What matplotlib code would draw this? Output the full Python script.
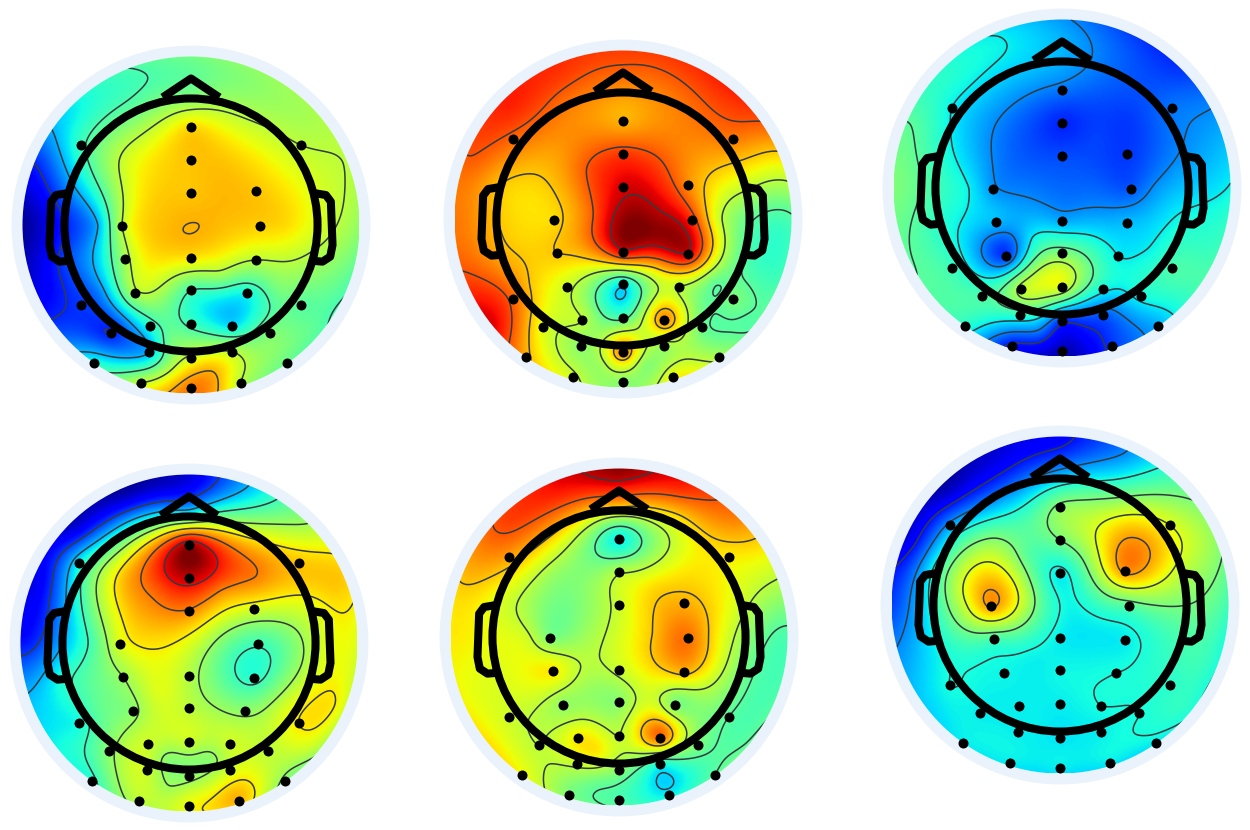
import matplotlib
matplotlib.use('Agg')
import matplotlib.pyplot as plt
from matplotlib.patches import Circle
import numpy as np

# control points, offsets from the field centre (field radius = 506), y downwards
ELEC_X = [0, 0, 0, 196, 206, -207, -197, 0, 196, -169, 0, 169, -124, 0, 123,
          -331, 329, -331, 329, -239, 238, -126, 123, 0, -291, 289, -151, 149, 0]
ELEC_Y = [-293, -195, -95, -103, 3, 3, 103, 98, 105, 204, 196, 204, 302, 296, 302,
          -240, -240, 240, 240, 325, 325, 380, 380, 400, 413, 413, 475, 475, 490]
EXTRA_X = [0, 190, 350, 455, 495, 455, 380, -380, -455, -495, -455, -350, -190,
           0, -170, 170, -370, 370, -370, 370, -200, 200, -100, 100, 100, -100,
           90, -90, -65, 65, -65, 65, -280, 280, -280, 280]
EXTRA_Y = [-495, -455, -350, -190, 0, 190, 320, 320, 190, 0, -190, -350, -455,
           -390, -340, -340, -100, -100, 100, 100, -190, -200, -10, -10, -150, -150,
           150, 150, 350, 350, 440, 440, 0, 0, 200, 200]

# values on the jet scale 0-100: the 29 electrodes, then the extra points
P1_ELEC = [68, 70, 70, 70, 69, 58, 55, 67, 58, 56, 44, 38, 40, 42, 34,
           42, 58, 18, 46, 16, 50, 30, 58, 60, 38, 48, 58, 58, 78]
P1_EXTRA = [48, 52, 55, 58, 54, 46, 46, 20, 10, 3, 18, 36, 43,
            50, 48, 56, 25, 62, 20, 56, 60, 66, 70, 71, 71, 68,
            55, 62, 48, 50, 58, 72, 30, 68, 25, 50]
P2_ELEC = [72, 85, 92, 76, 86, 68, 70, 92, 93, 60, 36, 58, 58, 44, 76,
           80, 78, 80, 50, 62, 48, 52, 55, 76, 72, 55, 60, 64, 52]
P2_EXTRA = [84, 85, 86, 68, 44, 43, 45, 90, 84, 78, 82, 88, 86,
            76, 78, 78, 70, 60, 72, 45, 74, 76, 80, 96, 85, 83,
            68, 62, 55, 60, 55, 52, 67, 62, 70, 46]
P3_ELEC = [24, 16, 20, 18, 21, 27, 31, 29, 31, 18, 50, 36, 58, 62, 38,
           36, 24, 42, 44, 44, 38, 42, 22, 18, 40, 30, 14, 18, 5]
P3_EXTRA = [28, 20, 18, 28, 36, 42, 42, 45, 46, 50, 46, 40, 36,
            30, 33, 22, 40, 27, 40, 38, 26, 18, 24, 22, 19, 20,
            37, 36, 50, 33, 22, 13, 36, 27, 33, 38]
P4_ELEC = [96, 94, 77, 62, 43, 62, 54, 57, 40, 52, 58, 52, 60, 60, 60,
           36, 70, 38, 66, 52, 58, 60, 60, 52, 40, 52, 58, 72, 64]
P4_EXTRA = [8, 33, 55, 70, 63, 64, 58, 38, 33, 14, 10, 6, 3,
            35, 42, 60, 30, 62, 40, 60, 70, 78, 68, 52, 76, 80,
            50, 62, 52, 52, 55, 62, 46, 47, 46, 60]
P5_ELEC = [36, 57, 60, 72, 79, 50, 66, 60, 72, 53, 52, 50, 66, 58, 80,
           74, 66, 60, 46, 58, 50, 60, 40, 52, 64, 46, 50, 36, 44]
P5_EXTRA = [98, 88, 77, 60, 44, 44, 46, 66, 64, 66, 72, 84, 90,
            70, 72, 64, 62, 60, 62, 50, 54, 66, 54, 70, 67, 52,
            62, 54, 66, 58, 48, 40, 60, 68, 60, 52]
P6_ELEC = [52, 50, 36, 76, 46, 75, 44, 36, 36, 37, 37, 38, 36, 36, 38,
           28, 62, 38, 40, 36, 38, 36, 36, 35, 36, 36, 36, 36, 36]
P6_EXTRA = [12, 26, 47, 54, 44, 40, 40, 34, 30, 20, 10, 4, 8,
            30, 24, 46, 42, 58, 38, 44, 52, 74, 56, 42, 58, 46,
            36, 37, 36, 36, 36, 36, 62, 50, 38, 40]

PANEL_VALUES = [P1_ELEC + P1_EXTRA, P2_ELEC + P2_EXTRA, P3_ELEC + P3_EXTRA,
                P4_ELEC + P4_EXTRA, P5_ELEC + P5_EXTRA, P6_ELEC + P6_EXTRA]
PANEL_LEVELS = [[16, 30, 44, 58, 72],
                [34, 46, 58, 70, 82, 94],
                [16, 26, 36, 46, 56],
                [18, 30, 42, 54, 66, 78, 90],
                [34, 46, 58, 70, 82, 94],
                [14, 26, 38, 50, 62, 74]]
# field centres in pixels of the 1250x830 image
CENTER_X = [191, 623, 1062, 189, 619, 1060]
CENTER_Y = [225, 219, 188, 643, 637, 605]

FIELD_R = 168.5
LIM = 1.1
W, H = 1250, 830


def biharmonic(x, y, v, gx, gy):
    # same kind of surface spline EEG topographies use between the channels
    def green(r2):
        out = np.zeros_like(r2)
        ok = r2 > 0
        out[ok] = r2[ok] * (0.5 * np.log(r2[ok]) - 1)
        return out
    d2 = (x[:, None] - x[None, :])**2 + (y[:, None] - y[None, :])**2
    weights = np.linalg.solve(green(d2), v)
    g2 = (gx.ravel()[:, None] - x[None, :])**2 + (gy.ravel()[:, None] - y[None, :])**2
    return (green(g2) @ weights).reshape(gx.shape)


def head_lines(ax):
    px = 1 / 506
    lw = 5.8
    ax.add_patch(Circle((0, 0), 380 * px, fill=False, ec='black', lw=lw, zorder=4))
    ax.plot(np.array([-75, 0, 75]) * px, np.array([390, 440, 390]) * px, color='black',
            lw=lw, solid_joinstyle='round', zorder=4)
    ear_x = np.array([375, 405, 420, 425, 418, 395, 370]) * px
    ear_y = np.array([95, 90, 70, -60, -95, -110, -108]) * px
    ax.plot(-ear_x, ear_y, color='black', lw=lw, solid_joinstyle='round', zorder=4)
    ax.plot(ear_x, ear_y, color='black', lw=lw, solid_joinstyle='round', zorder=4)


def main():
    fig = plt.figure(figsize=(W / 100, H / 100), dpi=100, facecolor='white')
    xs = np.array(ELEC_X + EXTRA_X) / 506
    ys = -np.array(ELEC_Y + EXTRA_Y) / 506
    grid = np.linspace(-1, 1, 260)
    gx, gy = np.meshgrid(grid, grid)
    size = 2 * LIM * FIELD_R
    for i in range(6):
        left = (CENTER_X[i] - size / 2) / W
        bottom = (H - CENTER_Y[i] - size / 2) / H
        ax = fig.add_axes([left, bottom, size / W, size / H])
        ax.set_xlim(-LIM, LIM)
        ax.set_ylim(-LIM, LIM)
        ax.axis('off')
        ax.add_patch(Circle((0, 0), 1.065, fc='#eaf3fc', ec='none', zorder=0))

        field = biharmonic(xs, ys, np.array(PANEL_VALUES[i], dtype=float), gx, gy)
        clip = Circle((0, 0), 1.0, transform=ax.transData)
        im = ax.imshow(field, extent=[-1, 1, -1, 1], origin='lower', cmap='jet',
                       vmin=0, vmax=100, interpolation='bilinear', zorder=1)
        im.set_clip_path(clip)
        cs = ax.contour(gx, gy, field, levels=PANEL_LEVELS[i], colors='#333a40',
                        linewidths=1.1, zorder=2)
        cs.set_clip_path(clip)

        head_lines(ax)
        ax.plot(xs[:29], ys[:29], 'o', color='black', ms=7.2, mew=0, zorder=5, clip_on=False)

    fig.savefig('out.png', dpi=100)


if __name__ == "__main__":
    main()
